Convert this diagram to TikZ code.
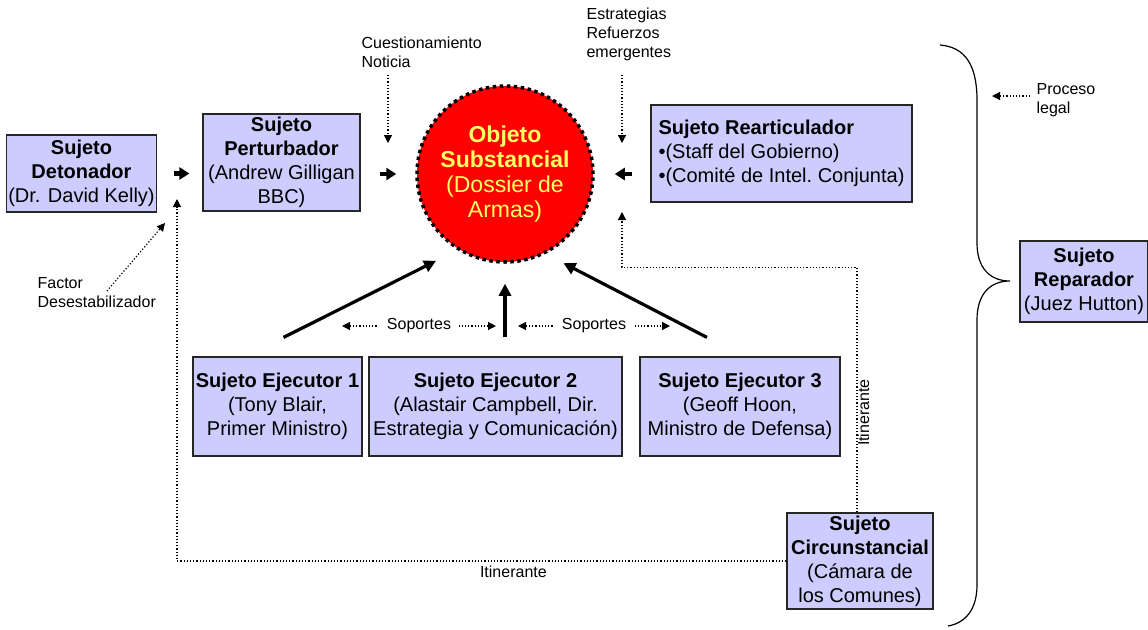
\documentclass[tikz,border=0pt]{standalone}
\usepackage{fontspec}
\setmainfont{Liberation Sans}
\usetikzlibrary{arrows.meta, positioning, calc}
\definecolor{boxblue}{RGB}{204,204,255}
\definecolor{objyellow}{RGB}{255,255,102}

\begin{document}
\begin{tikzpicture}[x=.5pt, y=-.5pt, line width=.6pt]
% Styles
\tikzstyle{suj}=[draw=black!85, fill=boxblue, align=center, inner sep=1pt]
\tikzstyle{lbl}=[align=left, inner sep=0pt, font=\footnotesize]
\tikzstyle{dotarr}=[densely dotted, line width=.6pt, >={Triangle[length=4pt, width=4pt]}, ->]
\tikzstyle{fat}=[line width=1.6pt, -{Triangle[length=6pt, width=6pt]}]
\tikzstyle{blockarr}=[line width=2.2pt, -{Triangle[length=5pt, width=6pt]}]
\useasboundingbox (0,0) rectangle (1148,629);
% Row 1
\node[suj, minimum width=73.5pt, minimum height=38.5pt] (det) at (81.5,173.5) {\textbf{Sujeto}\\\textbf{Detonador}\\(Dr. David Kelly)};
\node[suj, minimum width=78.5pt, minimum height=48.5pt] (pert) at (281.5,162.5) {\textbf{Sujeto}\\\textbf{Perturbador}\\(Andrew Gilligan\\BBC)};
\node[circle, fill=red, draw=black, line width=1.75pt, dash pattern=on 1.75pt off 1.75pt, minimum size=88pt, inner sep=0pt, align=center, text=objyellow, font=\fontsize{11.5}{12.5}\selectfont] (obj) at (505,174) {\textbf{Objeto}\\\textbf{Substancial}\\(Dossier de\\Armas)};
\node[suj, align=left, minimum width=130.5pt, minimum height=48.5pt] (rear) at (781.5,153.5) {\textbf{Sujeto Rearticulador}\\\textbullet(Staff del Gobierno)\\\textbullet(Comité de Intel.\ Conjunta)};
\node[suj, minimum width=64pt, minimum height=40.5pt] (rep) at (1084,281.5) {\textbf{Sujeto}\\\textbf{Reparador}\\(Juez Hutton)};
% Row 2
\node[suj, minimum width=84.5pt, minimum height=49.5pt] (ej1) at (277.5,406.5) {\textbf{Sujeto Ejecutor 1}\\(Tony Blair,\\Primer Ministro)};
\node[suj, minimum width=126.5pt, minimum height=49.5pt] (ej2) at (495.5,406.5) {\textbf{Sujeto Ejecutor 2}\\(Alastair Campbell, Dir.\\Estrategia y Comunicación)};
\node[suj, minimum width=100pt, minimum height=49.5pt] (ej3) at (740,406.5) {\textbf{Sujeto Ejecutor 3}\\(Geoff Hoon,\\Ministro de Defensa)};
\node[suj, minimum width=73pt, minimum height=48pt] (circ) at (860,561) {\textbf{Sujeto}\\\textbf{Circunstancial}\\(Cámara de\\los Comunes)};
% Labels
\node[lbl, anchor=north west] (cue) at (361,36) {Cuestionamiento\\Noticia};
\node[lbl, anchor=north west] (est) at (586,7) {Estrategias\\Refuerzos\\emergentes};
\node[lbl, anchor=north west] (proc) at (1036,83) {Proceso\\legal};
\node[lbl, anchor=north west] (fac) at (37,277) {Factor\\Desestabilizador};
% Arrows
\draw[blockarr, shorten <=8.5pt, shorten >=6.5pt] (det.east) -- (det.east -| pert.west);
\draw[blockarr, shorten <=9.5pt, shorten >=9.5pt] (obj.west -| pert.east) -- (obj.west);
\draw[blockarr, shorten <=9pt, shorten >=10pt] (obj.east -| rear.west) -- (obj.east);
\draw[fat, shorten >=12pt] ([shift={(6,-19)}]ej1.north) -- (obj.238);
\draw[fat, shorten >=10pt] ([shift={(9.5,-19)}]ej2.north) -- (obj.south);
\draw[fat, shorten >=10pt] ([shift={(-33,-19)}]ej3.north) -- (obj.297);
\draw[dotarr] (388,75) -- (388,143);
\draw[dotarr] (622,75) -- (622,143);
\draw[dotarr] (1030,96) -- (992,96);
\draw[dotarr] (107,291) -- (165,223);
\draw[dotarr, <->] (342,326) -- node[lbl, fill=white, inner xsep=4pt] (sop1) {Soportes} (496,326);
\draw[dotarr, <->] (518,326) -- node[lbl, fill=white, inner xsep=4pt] (sop2) {Soportes} (670,326);
\coordinate (itin1) at (177,199);
\coordinate (itin2) at (622,212);
\draw[dotarr] (circ.west) -| node[lbl, pos=.224, below=2pt] {Itinerante} (itin1);
\draw[dotarr] ([xshift=-1.5pt]circ.north) -- node[lbl, pos=.44, rotate=90, below=4pt] {Itinerante} ++(0,-245) -| (itin2);
% Brace
\draw (940,45) .. controls (965,47) and (977,65) .. (977,100) -- (977,243) .. controls (977,268) and (990,281) .. (1010,281) .. controls (990,281) and (977,294) .. (977,320) -- (977,585) .. controls (977,610) and (965,623) .. (948,626);
\end{tikzpicture}
\end{document}
